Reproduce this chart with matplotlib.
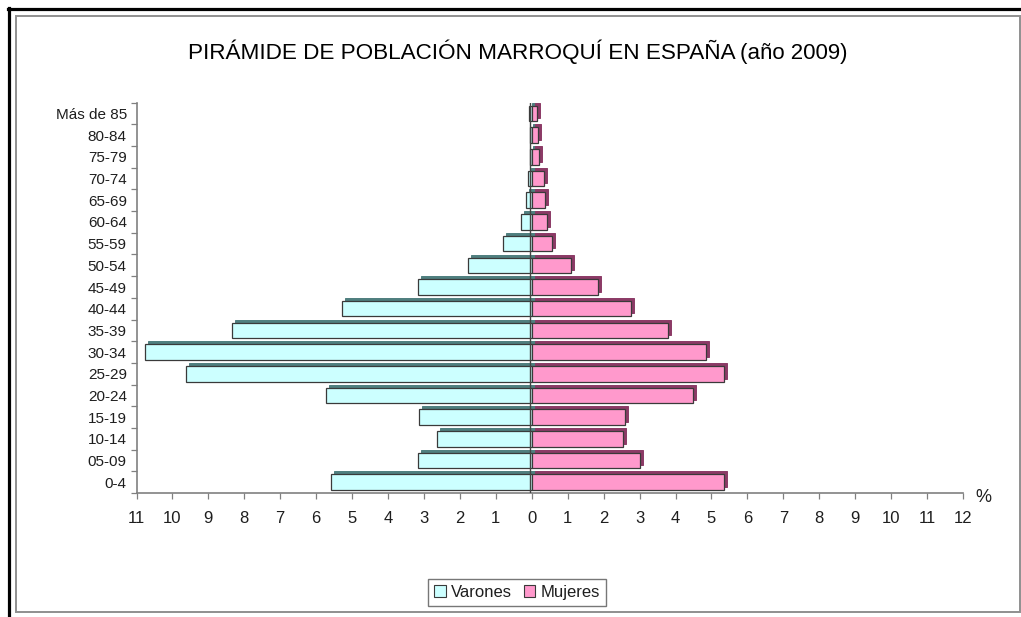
import matplotlib
matplotlib.use("Agg")
import matplotlib.pyplot as plt
import matplotlib.transforms as mtransforms
from matplotlib.lines import Line2D
from matplotlib.patches import Rectangle, Patch
import numpy as np

categories = ["0-4", "05-09", "10-14", "15-19", "20-24", "25-29", "30-34", "35-39",
              "40-44", "45-49", "50-54", "55-59", "60-64", "65-69", "70-74", "75-79",
              "80-84", "Más de 85"]
varones = [5.59, 3.18, 2.64, 3.13, 5.74, 9.62, 10.76, 8.34, 5.29, 3.18, 1.78, 0.81,
           0.31, 0.17, 0.10, 0.05, 0.05, 0.07]
mujeres = [5.34, 3.00, 2.55, 2.60, 4.48, 5.34, 4.84, 3.79, 2.77, 1.83, 1.08, 0.57,
           0.43, 0.37, 0.34, 0.20, 0.17, 0.15]
xticks = list(range(-11, 13))
xticklabels = [str(abs(t)) for t in xticks]

FONT = ["Liberation Sans", "DejaVu Sans"]
plt.rcParams["font.family"] = FONT
TXT = "#1e1e1e"

W, H = 1021, 617
fig = plt.figure(figsize=(W / 100, H / 100), dpi=100)
fig.patch.set_facecolor("white")

left, right, top, bottom = 136.5, 963.0, 102.7, 493.0
ax = fig.add_axes([left / W, 1 - bottom / H, (right - left) / W, (bottom - top) / H])

y = np.arange(len(categories))
bh = 0.72
c_men, c_men_d = "#CCFFFF", "#4f7f7f"
c_wom, c_wom_d = "#FF99CC", "#8c3a66"
edge = "#3a3a3a"

shift = mtransforms.ScaledTranslation(3 / 100, 3 / 100, fig.dpi_scale_trans)
tr = ax.transData + shift
ax.barh(y, [-v for v in varones], height=bh, color=c_men_d, edgecolor=c_men_d,
        linewidth=0.7, transform=tr, zorder=2)
ax.barh(y, mujeres, height=bh, color=c_wom_d, edgecolor=c_wom_d,
        linewidth=0.7, transform=tr, zorder=2)
ax.barh(y, [-v for v in varones], height=bh, color=c_men, edgecolor=edge,
        linewidth=0.9, zorder=3, label="Varones")
ax.barh(y, mujeres, height=bh, color=c_wom, edgecolor=edge,
        linewidth=0.9, zorder=3, label="Mujeres")
ax.axvline(-0.05, color="#444444", lw=1.0, zorder=4)

ax.set_xlim(-11, 12)
ax.set_ylim(-0.5, len(categories) - 0.5)
ax.set_xticks(xticks)
ax.set_xticklabels(xticklabels, fontsize=12, color=TXT)
ax.set_yticks(y)
ax.set_yticklabels(categories, fontsize=11, color=TXT)
ax.set_yticks(np.arange(-0.5, len(categories), 1.0), minor=True)
ax.tick_params(axis="y", which="major", length=0, pad=7)
ax.tick_params(axis="y", which="minor", length=4, width=0.9, color="#808080", direction="out")
ax.tick_params(axis="x", which="major", length=4, width=0.9, color="#808080",
               direction="out", pad=9)
for s in ["top", "right"]:
    ax.spines[s].set_visible(False)
for s in ["left", "bottom"]:
    ax.spines[s].set_color("#808080")
    ax.spines[s].set_linewidth(1.2)

fig.text(983 / W, 1 - 497 / H, "%", fontsize=13, color=TXT, ha="center", va="center")

fig.text(736 / W, 1 - 52 / H, "PIRÁMIDE DE POBLACIÓN MARROQUÍ EN ESPAÑA", fontsize=16.2,
         color="black", ha="right", va="center")
fig.text(740 / W, 1 - 53 / H, "(año 2009)", fontsize=16,
         color="black", ha="left", va="center")

handles = [Patch(facecolor=c_men, edgecolor=edge, linewidth=0.8),
           Patch(facecolor=c_wom, edgecolor=edge, linewidth=0.8)]
leg = fig.legend(handles, ["Varones", "Mujeres"], loc="center",
                 bbox_to_anchor=(517 / W, 1 - 592.5 / H), ncol=2, fontsize=12,
                 frameon=True, fancybox=False, handlelength=0.7, handleheight=0.7,
                 handletextpad=0.3, columnspacing=0.7, borderpad=0.35)
leg.get_frame().set_edgecolor("#555555")
leg.get_frame().set_linewidth(1.0)
for t in leg.get_texts():
    t.set_color(TXT)

# frames
def px_line(x0, y0, x1, y1, color, lw):
    fig.add_artist(Line2D([x0 / W, x1 / W], [1 - y0 / H, 1 - y1 / H],
                          transform=fig.transFigure, color=color, lw=lw))

px_line(8, 8.5, W, 8.5, "black", 2.3)
px_line(9, 8, 9, H, "black", 2.3)
fig.add_artist(Rectangle((15.5 / W, 1 - 611.5 / H), (1019.5 - 15.5) / W, (611.5 - 15.5) / H,
                         transform=fig.transFigure, fill=False, edgecolor="#8f8f8f", lw=1.4))

fig.savefig("out.png", dpi=100)
